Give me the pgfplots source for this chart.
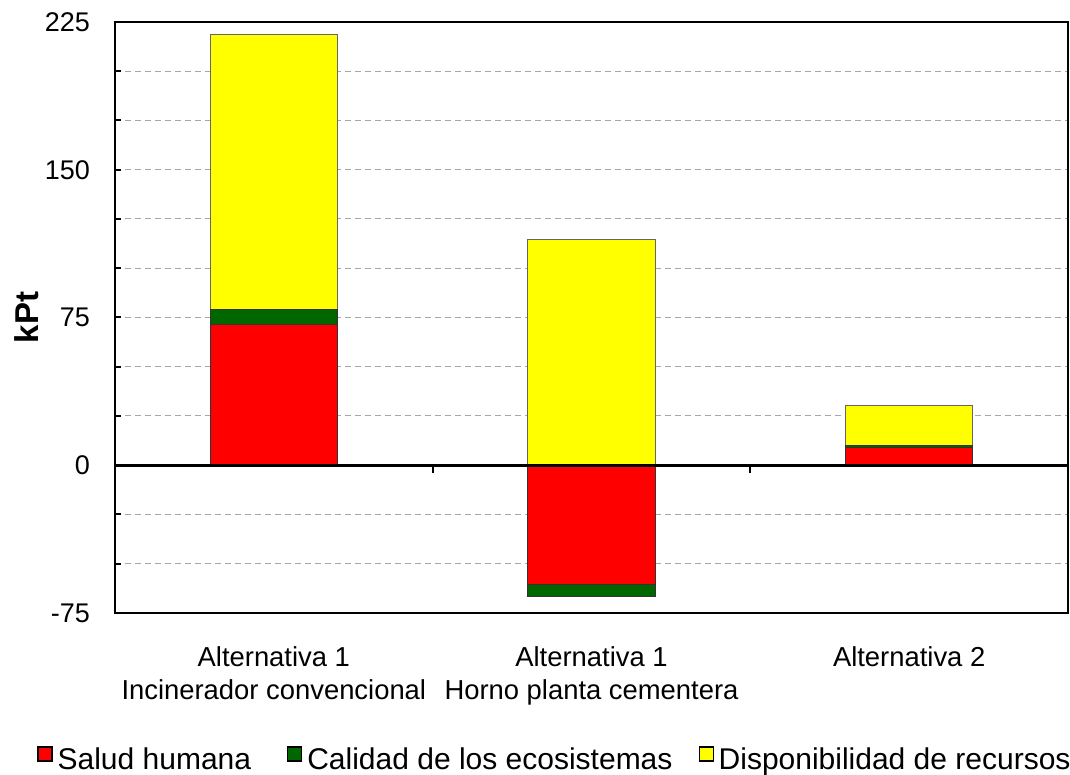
\documentclass[border=0pt]{standalone}
\usepackage{fontspec}
\setmainfont{Liberation Sans}
\usepackage{pgfplots}
\usepackage{pgfplotstable}
\pgfplotsset{compat=1.18}

\definecolor{cred}{RGB}{255,0,0}
\definecolor{cgreen}{RGB}{0,102,0}
\definecolor{cyellow}{RGB}{255,255,0}

% stack tops per alternative (kPt); bars are overlaid from 0
\pgfplotstableread{
x yellow green red
0 218.8  79.2  71.6
1 114.7 -66.5 -60.5
2  30.5  10.2   9.1
}\stacks

\begin{document}
\begin{tikzpicture}
\path[use as bounding box] (-57.5pt,-81pt) rectangle (477.5pt,306.5pt);
\begin{axis}[
    scale only axis, width=476.5pt, height=295.5pt,
    xmin=-0.5, xmax=2.5, ymin=-75, ymax=225,
    xtick={0,1,2},
    xticklabels={{Alternativa 1\\Incinerador convencional},{Alternativa 1\\Horno planta cementera},{Alternativa 2}},
    x tick style={draw=none},
    xticklabel style={align=center, font=\fontsize{13.7}{16.5}\selectfont, yshift=-13.5pt},
    ytick={-75,0,75,150,225}, yticklabels={-75,0,75,150,225},
    minor ytick={-50,-25,25,50,100,125,175,200},
    ytick pos=left,
    yticklabel style={font=\fontsize{13.5}{16}\selectfont, xshift=-9pt},
    ymajorgrids, yminorgrids,
    grid style={densely dashed, gray!70, line width=0.5pt},
    minor grid style={densely dashed, gray!70, line width=0.5pt},
    tick align=inside,
    y tick style={black, line width=1pt},
    major tick length=3pt, minor tick length=3pt,
    axis line style={line width=1.2pt},
    ylabel={kPt},
    ylabel style={font=\bfseries\fontsize{16.5}{18}\selectfont, at={(axis description cs:-0.0923,0.5)}, anchor=center},
    legend columns=3, reverse legend,
    legend style={at={(axis description cs:-0.0818,-0.2487)}, anchor=west, draw=none, fill=none,
        inner sep=0pt, font=\fontsize{15}{17}\selectfont,
        /tikz/every odd column/.append style={column sep=0.5pt},
        /tikz/every even column/.append style={column sep=16pt}},
    legend cell align=left,
]
\addplot[ybar, bar width=0.4, bar shift=0pt, fill=cyellow, draw=black!60, line width=0.5pt,
    legend image code/.code={\draw[fill=cyellow, draw=black, line width=0.6pt] (0pt,-0.5pt) rectangle (7pt,6.5pt);}]
    table[x=x, y=yellow] {\stacks};
\addlegendentry{Disponibilidad de recursos}
\addplot[ybar, bar width=0.4, bar shift=0pt, fill=cgreen, draw=black!80, line width=0.5pt,
    legend image code/.code={\draw[fill=cgreen, draw=black, line width=0.6pt] (0pt,-0.5pt) rectangle (7pt,6.5pt);}]
    table[x=x, y=green] {\stacks};
\addlegendentry{Calidad de los ecosistemas\hspace*{-5pt}}
\addplot[ybar, bar width=0.4, bar shift=0pt, fill=cred, draw=black!80, line width=0.5pt,
    legend image code/.code={\draw[fill=cred, draw=black, line width=0.6pt] (0pt,-0.5pt) rectangle (7pt,6.5pt);}]
    table[x=x, y=red] {\stacks};
\addlegendentry{Salud humana}
% zero line with category separators
\draw[line width=1.5pt] (axis cs:-0.5,0) -- (axis cs:2.5,0);
\draw[line width=1pt] (axis cs:0.5,0) -- ++(0pt,-4pt);
\draw[line width=1pt] (axis cs:1.5,0) -- ++(0pt,-4pt);
\end{axis}
\end{tikzpicture}
\end{document}
